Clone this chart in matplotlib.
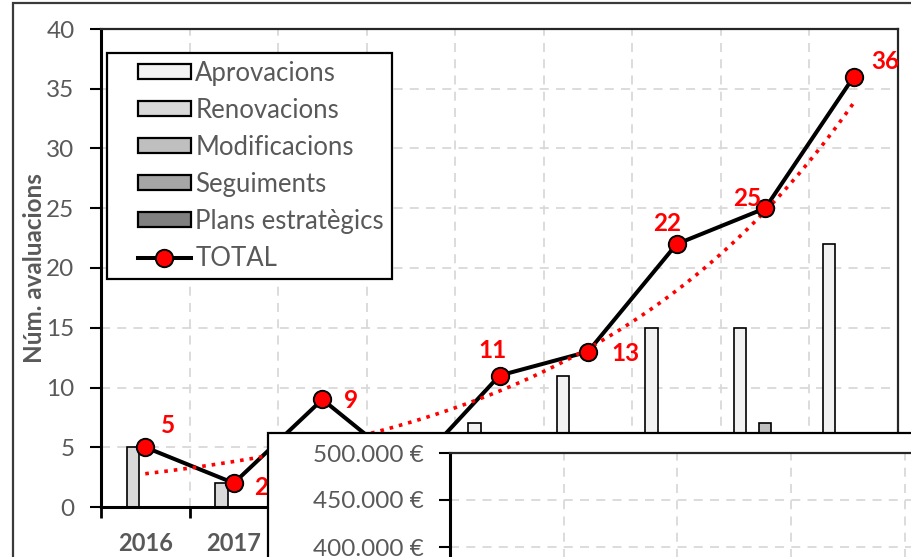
import numpy as np
import matplotlib.pyplot as plt
from matplotlib.patches import Rectangle, Patch
from matplotlib.lines import Line2D
from matplotlib.legend_handler import HandlerPatch, HandlerLine2D
from matplotlib.ticker import FuncFormatter

plt.rcParams['font.family'] = ['Lato', 'DejaVu Sans']

years = ['2016', '2017', '2018', '2019', '2020', '2021', '2022', '2023', '2024']
aprovacions = [0, 0, 2, 0, 7, 11, 15, 15, 22]
renovacions = [5, 2, 4, 2, 2, 1, 4, 2, 5]
modificacions = [0, 0, 3, 1, 2, 1, 3, 7, 5]
seguiments = [0, 0, 0, 0, 0, 0, 0, 1, 4]
plans = [0, 0, 0, 0, 0, 0, 0, 0, 0]
total = [5, 2, 9, 3, 11, 13, 22, 25, 36]

series_names = ['Aprovacions', 'Renovacions', 'Modificacions', 'Seguiments', 'Plans estratègics']
series_colors = ['#F2F2F2', '#D9D9D9', '#BFBFBF', '#A6A6A6', '#808080']

# offsets (points) of the TOTAL labels; 2019 label is hidden by the pasted chart
label_off = [(16, 16), (20, -3), (21, -1), None, (-5, 18), (27, -1), (-7, 15), (-13, 7), (23, 11)]

# inset (second chart pasted on top, only its top part is visible)
inset_ticks = [400000, 450000, 500000]

grey_txt = '#595959'
grid_kw = dict(color='#D9D9D9', linestyle=(0, (5, 4)), linewidth=1.3)

fig = plt.figure(figsize=(9.11, 5.57), dpi=100)
W, H = 911, 557

# outer frame of the main chart
fig.patches.append(Rectangle((13 / W, -0.2), 1.5, (H - 3) / H + 0.2, transform=fig.transFigure,
                             fill=False, edgecolor='#3a3a3a', linewidth=1.6, zorder=-1))

ax = fig.add_axes([101 / W, (H - 507) / H, 797 / W, 478 / H])
x = np.arange(len(years))
bw = 0.141
all_series = [aprovacions, renovacions, modificacions, seguiments, plans]
for i, (vals, col) in enumerate(zip(all_series, series_colors)):
    v = np.array(vals, dtype=float)
    m = v > 0
    ax.bar(x[m] + (i - 2) * bw, v[m], width=bw, color=col, edgecolor='black',
           linewidth=1.2, zorder=2)

# exponential trend line fitted on the totals
b, a = np.polyfit(x, np.log(total), 1)
xt = np.linspace(0, 8, 200)
ax.plot(xt, np.exp(a + b * xt), color='red', linestyle=':', linewidth=2.6, zorder=4)

ax.plot(x, total, color='black', linewidth=2.9, zorder=3)
ax.plot(x, total, linestyle='none', marker='o', markersize=12.5, markerfacecolor='red',
        markeredgecolor='black', markeredgewidth=1.4, zorder=5)

for i, v in enumerate(total):
    if label_off[i] is None:
        continue
    ax.annotate(str(v), (x[i], v), xytext=label_off[i], textcoords='offset points',
                ha='center', va='center', color='red', fontsize=17.5, fontweight='bold',
                zorder=6, annotation_clip=False)

ax.set_xlim(-0.5, 8.5)
ax.set_ylim(0, 40)
ax.set_yticks(np.arange(0, 41, 5))
ax.set_xticks(x)
ax.set_xticklabels(years, fontweight='bold', color=grey_txt, fontsize=17)
# labels from 2018 on sit under the pasted chart
for lbl in ax.get_xticklabels()[2:]:
    lbl.set_visible(False)
ax.set_xticks(np.arange(-0.5, 9, 1), minor=True)
ax.tick_params(axis='x', which='major', length=0, pad=18)
ax.tick_params(axis='x', which='minor', length=8, width=2, direction='out', color='black')
ax.tick_params(axis='y', length=8, width=1.5, direction='out', labelsize=17.5,
               labelcolor=grey_txt, pad=11)
ax.grid(axis='y', **grid_kw)
ax.grid(axis='x', which='minor', **grid_kw)
ax.set_axisbelow(True)
for s in ['left', 'bottom']:
    ax.spines[s].set_linewidth(2.2)
    ax.spines[s].set_color('black')
for s in ['top', 'right']:
    ax.spines[s].set_linewidth(1.6)
    ax.spines[s].set_color('#262626')

ax.set_ylabel('Núm. avaluacions', fontsize=17.5, fontweight='bold', color=grey_txt)
ax.yaxis.set_label_coords(-0.069, 0.5)

fs = 18.5
fpx = fs * 100 / 72
handles = [Patch(facecolor=c, edgecolor='black', linewidth=1.6) for c in series_colors]
handles.append(Line2D([], [], color='black', linewidth=2.9, marker='o', markersize=12.5,
                      markerfacecolor='red', markeredgecolor='black', markeredgewidth=1.4))
xpad = 23 / fpx
leg = ax.legend(handles, series_names + ['TOTAL'], loc='upper left',
                bbox_to_anchor=(0.0075, 0.95), fontsize=fs, frameon=True, fancybox=False,
                framealpha=1, edgecolor='black', borderpad=0.3, labelspacing=0.47,
                handlelength=76 / fpx, handleheight=0.52, handletextpad=0.18,
                borderaxespad=0,
                handler_map={Patch: HandlerPatch(xpad=xpad), Line2D: HandlerLine2D(xpad=xpad)})
leg.get_frame().set_linewidth(1.6)
for t in leg.get_texts():
    t.set_color(grey_txt)
leg.set_zorder(7)

# white box of the pasted second chart
fig.patches.append(Rectangle((268 / W, -0.2), 1.0, (H - 433) / H + 0.2, transform=fig.transFigure,
                             facecolor='white', edgecolor='black', linewidth=1.6, zorder=1))

ax2 = fig.add_axes([450 / W, (H - 641) / H, 568.5 / W, 188 / H], zorder=2)
ax2.set_xlim(0, 5)
ax2.set_ylim(300000, 500000)
ax2.set_yticks(inset_ticks)
ax2.yaxis.set_major_formatter(FuncFormatter(lambda v, p: '{:,.0f} €'.format(v).replace(',', '.')))
ax2.set_xticks([1, 2, 3, 4])
ax2.tick_params(axis='x', length=0, labelbottom=False)
ax2.tick_params(axis='y', length=8, width=1.5, direction='out', labelsize=17.5,
                labelcolor=grey_txt, pad=11)
ax2.grid(True, **grid_kw)
ax2.set_axisbelow(True)
ax2.spines['left'].set_linewidth(2.2)
ax2.spines['top'].set_linewidth(1.6)
ax2.spines['top'].set_color('#262626')
ax2.spines['right'].set_visible(False)
ax2.spines['bottom'].set_visible(False)

fig.savefig('out.png', dpi=100)
